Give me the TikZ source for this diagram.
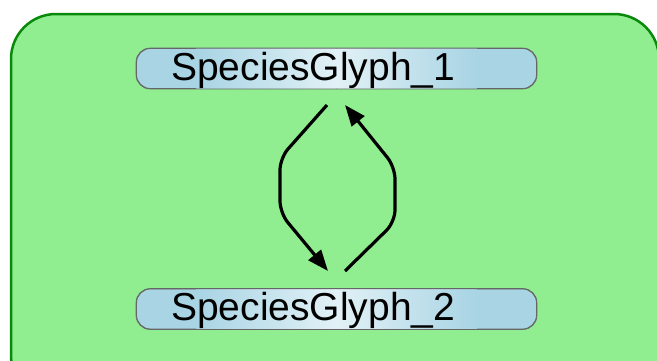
\documentclass[tikz,border=0pt]{standalone}
\usepackage{fontspec}
\setmainfont{Liberation Sans}
\usetikzlibrary{arrows.meta}
\definecolor{bggreen}{HTML}{90EE90}
\definecolor{edgegreen}{HTML}{0A8A0A}
\definecolor{glyphblue}{HTML}{A8D4E4}
\definecolor{glyphmid}{HTML}{E2F1F6}
\tikzset{
  glyph/.style={rounded corners=14pt, draw=gray!80!black, line width=0.8pt,
    fill=glyphblue, minimum width=400pt, minimum height=40pt, inner sep=0pt},
  gtext/.style={font=\fontsize{39}{39}\selectfont, anchor=base west, inner sep=0pt},
  conn/.style={line width=3.2pt, rounded corners=12pt, -{Triangle[length=21pt,width=16pt]}}
}
\newcommand{\glyphshine}[1]{%
  \begin{scope}
    \clip[rounded corners=14pt] (#1.south west) rectangle (#1.north east);
    \shade[left color=glyphblue, right color=glyphmid] ([xshift=60pt]#1.south west) rectangle (#1.north);
    \shade[left color=glyphmid, right color=glyphblue] (#1.south) rectangle ([xshift=-60pt]#1.north east);
  \end{scope}
  \draw[rounded corners=14pt, draw=gray!80!black, line width=0.8pt] (#1.south west) rectangle (#1.north east);
}
\begin{document}
\begin{tikzpicture}[x=1pt,y=1pt]
\useasboundingbox (0,0) rectangle (657,-360);
\begin{scope}
\clip (0,0) rectangle (657,-360);
\draw[edgegreen, fill=bggreen, line width=2.5pt, rounded corners=45pt] (11,-14) rectangle (659,-400);
\end{scope}
\node[glyph] (g1) at (336.5,-68.5) {};
\node[glyph] (g2) at (336.5,-309) {};
\glyphshine{g1}
\glyphshine{g2}
\node[gtext] (t1) at (171,-80) {SpeciesGlyph\_1};
\node[gtext] (t2) at (171,-320) {SpeciesGlyph\_2};
\coordinate (a1) at (327,-105);
\coordinate (a2) at (280,-158);
\coordinate (a3) at (280,-213);
\coordinate (a4) at (328,-271);
\coordinate (b1) at (345,-271);
\coordinate (b2) at (395,-222);
\coordinate (b3) at (395,-167);
\coordinate (b4) at (345,-105);
\draw[conn] (a1) -- (a2) -- (a3) -- (a4);
\draw[conn] (b1) -- (b2) -- (b3) -- (b4);
\end{tikzpicture}
\end{document}
